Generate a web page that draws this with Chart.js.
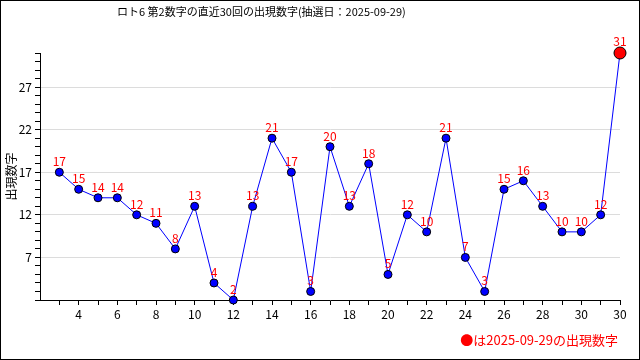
<!DOCTYPE html>
<html>
<head>
<meta charset="utf-8">
<script src="https://cdn.jsdelivr.net/npm/chart.js@4.4.1/dist/chart.umd.min.js"></script>
<style>
  html, body { margin: 0; padding: 0; background: #fff; }
  #wrap { width: 640px; height: 360px; }
</style>
</head>
<body>
<div id="wrap"><canvas id="chart" width="640" height="360"></canvas></div>
<script>
// draw positions on the x axis (3..32) and the 2nd number of each draw
var drawPos = [3, 4, 5, 6, 7, 8, 9, 10, 11, 12, 13, 14, 15, 16, 17, 18, 19, 20, 21, 22, 23, 24, 25, 26, 27, 28, 29, 30, 31, 32];
var secondNum = [17, 15, 14, 14, 12, 11, 8, 13, 4, 2, 13, 21, 17, 3, 20, 13, 18, 5, 12, 10, 21, 7, 3, 15, 16, 13, 10, 10, 12, 31];
// tick labels shown under the x axis (last one reads 30 in the original)
var xTickLabels = { 4: '4', 6: '6', 8: '8', 10: '10', 12: '12', 14: '14', 16: '16', 18: '18', 20: '20', 22: '22', 24: '24', 26: '26', 28: '28', 30: '30', 32: '30' };
var yTickLabels = [7, 12, 17, 22, 27];

var chartTitle = 'ロト6 第2数字の直近30回の出現数字(抽選日：2025-09-29)';
var yTitle = '出現数字';
var noteText = '●は2025-09-29の出現数字';

var FONT = '"Noto Sans CJK JP", "DejaVu Sans", sans-serif';

var points = [];
for (var i = 0; i < drawPos.length; i++) {
  points.push({ x: drawPos[i], y: secondNum[i] });
}
var lastIdx = points.length - 1;

// background, frame, title, note and point labels
var decorPlugin = {
  id: 'decor',
  beforeDraw: function (chart) {
    var ctx = chart.ctx;
    ctx.save();
    ctx.fillStyle = '#fff';
    ctx.fillRect(0, 0, chart.width, chart.height);
    ctx.restore();
  },
  afterDraw: function (chart) {
    var ctx = chart.ctx;
    ctx.save();
    ctx.strokeStyle = '#000';
    ctx.lineWidth = 1;
    ctx.strokeRect(0.5, 0.5, chart.width - 1, chart.height - 1);

    ctx.fillStyle = '#000';
    ctx.font = '11px ' + FONT;
    ctx.textAlign = 'left';
    ctx.textBaseline = 'middle';
    ctx.fillText(chartTitle, 117, 12);

    ctx.fillStyle = '#ff0000';
    ctx.font = '13px ' + FONT;
    ctx.textAlign = 'right';
    ctx.fillText(noteText, 618, 340);

    var meta = chart.getDatasetMeta(0);
    ctx.font = '12px ' + FONT;
    ctx.textAlign = 'center';
    ctx.textBaseline = 'alphabetic';
    meta.data.forEach(function (pt, idx) {
      var off = idx == lastIdx ? 7 : 6;
      ctx.fillText(String(secondNum[idx]), pt.x, pt.y - off);
    });
    ctx.restore();
  }
};

var pointColors = secondNum.map(function (v, idx) { return idx == lastIdx ? '#ff0000' : '#0000ff'; });
var pointSizes = secondNum.map(function (v, idx) { return idx == lastIdx ? 6 : 4; });

new Chart(document.getElementById('chart'), {
  type: 'line',
  plugins: [decorPlugin],
  data: {
    datasets: [{
      data: points,
      borderColor: '#0000ff',
      borderWidth: 1,
      pointBackgroundColor: pointColors,
      pointBorderColor: '#000',
      pointBorderWidth: 1,
      pointRadius: pointSizes,
      tension: 0,
      clip: false
    }]
  },
  options: {
    responsive: false,
    animation: false,
    layout: { padding: { top: 53, right: 20, left: 0, bottom: 0 } },
    plugins: {
      legend: { display: false },
      tooltip: { enabled: false },
      title: { display: false }
    },
    scales: {
      x: {
        type: 'linear',
        min: 2,
        max: 32,
        afterFit: function (scale) { scale.height = 60; },
        border: { display: true, color: '#000', width: 1 },
        grid: {
          drawOnChartArea: false,
          tickLength: 5,
          tickColor: function (c) { return c.tick && c.tick.value == 2 ? 'rgba(0,0,0,0)' : '#000'; }
        },
        ticks: {
          stepSize: 1,
          autoSkip: false,
          maxRotation: 0,
          padding: 2,
          color: '#000',
          font: { size: 12, family: FONT },
          callback: function (v) { return xTickLabels[v] || ''; }
        }
      },
      y: {
        min: 2,
        max: 31,
        afterFit: function (scale) { scale.width = 40; },
        border: { display: true, color: '#000', width: 1 },
        title: {
          display: true,
          text: yTitle,
          color: '#000',
          font: { size: 12, family: FONT },
          padding: { top: 4, bottom: 0 }
        },
        grid: {
          drawTicks: true,
          tickLength: 5,
          tickColor: '#000',
          color: function (c) {
            return c.tick && yTickLabels.indexOf(c.tick.value) >= 0 ? '#dcdcdc' : 'rgba(0,0,0,0)';
          }
        },
        ticks: {
          stepSize: 1,
          autoSkip: false,
          padding: 3,
          color: '#000',
          font: { size: 12, family: FONT },
          callback: function (v) { return yTickLabels.indexOf(v) >= 0 ? String(v) : ''; }
        }
      }
    }
  }
});
</script>
</body>
</html>
